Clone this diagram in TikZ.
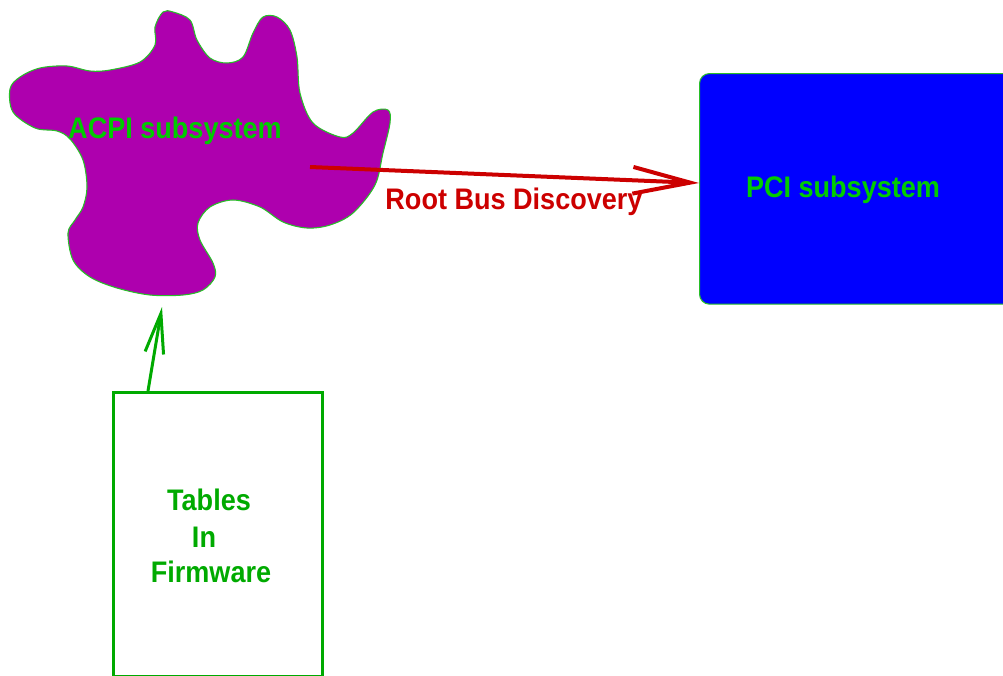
\documentclass[tikz,border=0pt]{standalone}
\usepackage{fontspec}
\setmainfont{Liberation Sans}
\newfontfamily\labelfont[FakeStretch=0.91]{Liberation Sans Bold}
\usetikzlibrary{arrows.meta}

\definecolor{blobfill}{RGB}{174,0,174}
\definecolor{blobline}{RGB}{40,190,40}
\definecolor{txtgreen}{RGB}{0,204,0}
\definecolor{boxgreen}{RGB}{0,170,0}
\definecolor{arrred}{RGB}{204,0,0}
\definecolor{pciblue}{RGB}{0,0,255}

\tikzset{
  lbl/.style={inner sep=0pt, anchor=base, font=\labelfont\fontsize{22.3}{27}\selectfont},
  redarrow/.style={draw=arrred, line width=3pt,
    -{Straight Barb[length=43pt, width=20pt, line width=3pt]}},
  greenarrow/.style={draw=boxgreen, line width=2.25pt,
    -{Straight Barb[length=30pt, width=14pt, line width=2.25pt]}},
}

\begin{document}
\begin{tikzpicture}[x=0.75pt, y=-0.75pt]
\useasboundingbox (0,0) rectangle (1003,675);
\clip (0,0) rectangle (1003,675);

% ACPI cloud
\draw[blobline, fill=blobfill, line width=0.8pt]
  plot[smooth cycle, tension=0.55] coordinates {
    (10,89) (20,77) (40,68) (67,66) (90,71) (110,70) (140,62) (155,45) (155,27)
    (163,12) (173,12) (190,20) (197,40) (210,58) (227,63) (243,57)
    (253,33) (263,17) (277,17) (290,30) (297,57) (300,93) (313,123)
    (340,137) (353,133) (373,112) (388,110) (390,123) (383,153)
    (375,185) (353,213) (330,225) (307,228) (283,222) (260,207)
    (233,200) (210,207) (198,223) (200,240) (213,263) (215,277)
    (203,290) (183,295) (150,295) (117,288) (90,277) (73,260)
    (68,233) (75,220) (83,207) (87,187) (83,160) (70,139) (57,131)
    (35,128) (13,112)};
\coordinate (acpiout) at (310,167);
\coordinate (acpiin) at (162,307);

% PCI subsystem box
\node[draw=blobline, fill=pciblue, line width=0.8pt, rounded corners=7.5pt,
      minimum width=240pt, minimum height=173pt, anchor=north west,
      inner sep=0pt] (pci) at (699,73) {};

% Tables in firmware box
\node[draw=boxgreen, line width=2.25pt, minimum width=157pt,
      minimum height=213pt, anchor=north west, inner sep=0pt]
      (tables) at (112,391) {};

% connectors
\draw[redarrow] (acpiout) -- (pci.west |- 0,183);
\draw[greenarrow] (tables.north -| 148,0) -- (acpiin);

% labels
\node[lbl, text=txtgreen] (acpilbl) at (175,138) {ACPI subsystem};
\node[lbl, text=txtgreen] (pcilbl) at (843,197) {PCI subsystem};
\node[lbl, text=arrred] (rbd) at (514,209) {Root Bus Discovery};
\node[lbl, text=boxgreen] (t1) at (209,510) {Tables};
\node[lbl, text=boxgreen] (t2) at (204,547) {In};
\node[lbl, text=boxgreen] (t3) at (211,582) {Firmware};
\end{tikzpicture}
\end{document}
